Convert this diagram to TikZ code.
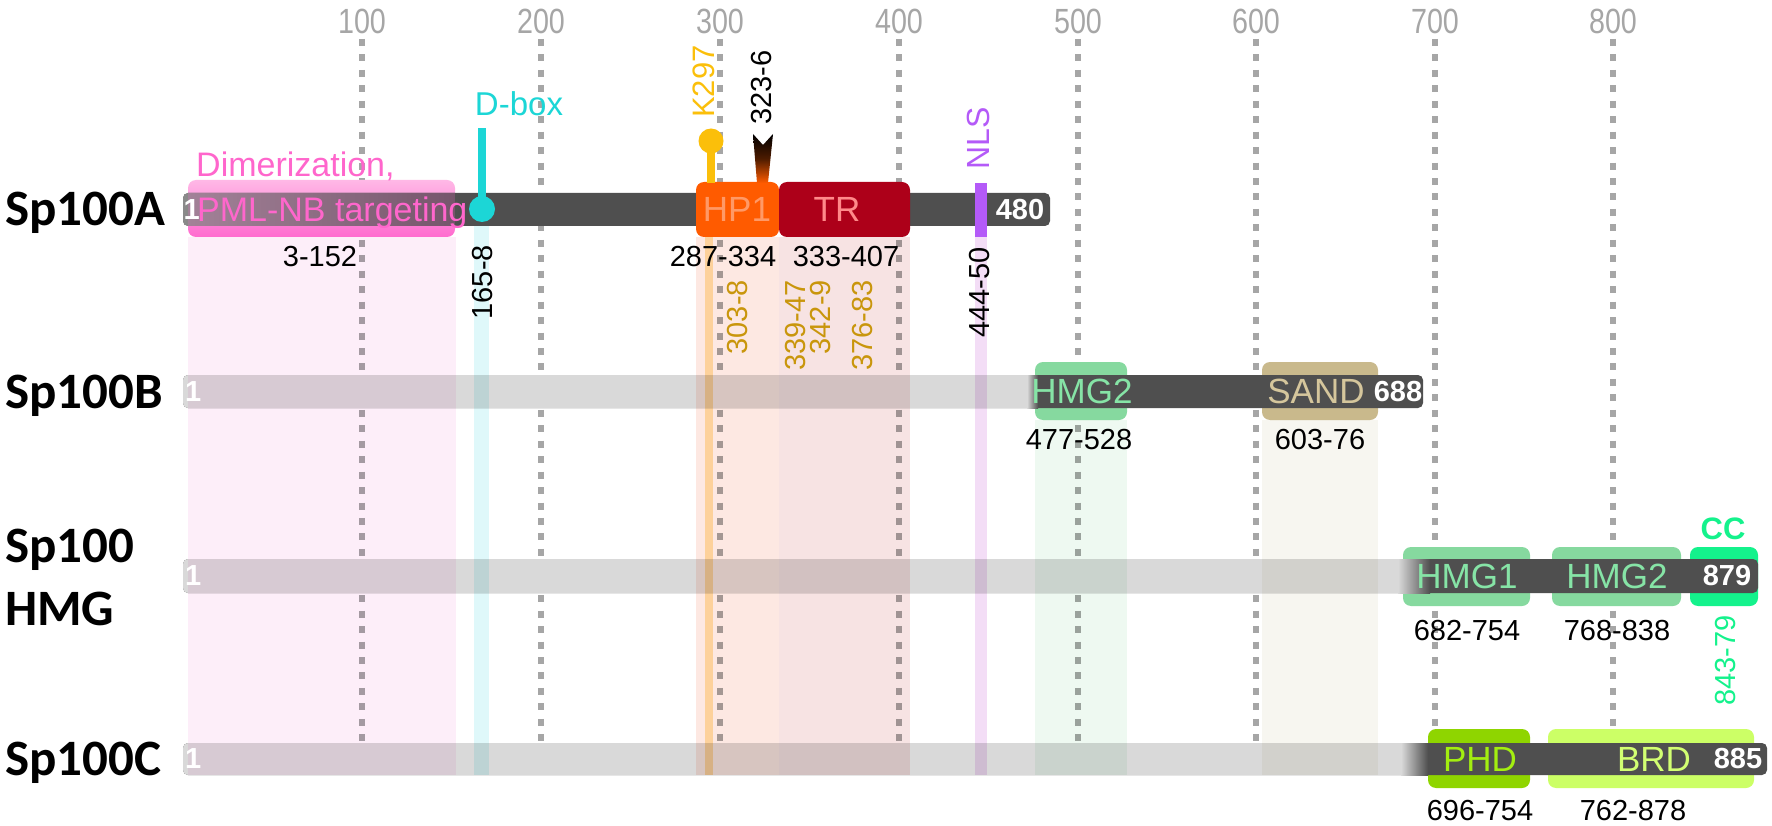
\documentclass[tikz,border=0pt]{standalone}
\usepackage{fontspec}
\setmainfont{Liberation Sans}
\newfontfamily\rowfont{Carlito}
\newfontfamily\tickfont[FakeStretch=0.82]{Liberation Sans}
\definecolor{tickgray}{HTML}{A6A6A6}
\definecolor{bardark}{HTML}{4F4F4F}
\definecolor{barlight}{HTML}{D9D9D9}
\definecolor{barmid}{HTML}{8A8A8A}
\definecolor{pinktop}{HTML}{FFB8E6}
\definecolor{pinkbot}{HTML}{FF6BCF}
\definecolor{pinktext}{HTML}{FF66CC}
\definecolor{cyanc}{HTML}{1CD6D6}
\definecolor{hpone}{HTML}{FF5B00}
\definecolor{hponetext}{HTML}{FF9966}
\definecolor{trc}{HTML}{AD0019}
\definecolor{trtext}{HTML}{FF8A8A}
\definecolor{kc}{HTML}{FBBF0A}
\definecolor{gold}{HTML}{C9960C}
\definecolor{nlsc}{HTML}{B45AF8}
\definecolor{hmgc}{HTML}{86D99F}
\definecolor{hmgtext}{HTML}{86E4A6}
\definecolor{sandc}{HTML}{C9B98C}
\definecolor{sandtext}{HTML}{D5C69C}
\definecolor{ccc}{HTML}{14F28C}
\definecolor{phdc}{HTML}{8FD500}
\definecolor{phdtext}{HTML}{A3EE10}
\definecolor{brdc}{HTML}{CCFF66}
\definecolor{brdtext}{HTML}{D2FF72}
\definecolor{bpink}{HTML}{FDEEF9}
\definecolor{bcyan}{HTML}{DFF8FA}
\definecolor{bpeach}{HTML}{FDE8E2}
\definecolor{byellow}{HTML}{FFE6B0}
\definecolor{btr}{HTML}{F7E3E3}
\definecolor{bnls}{HTML}{F3DDF6}
\definecolor{bhmg}{HTML}{EEF9F1}
\definecolor{bsand}{HTML}{F7F6F0}
\begin{document}
\begin{tikzpicture}[x=1pt,y=-1pt,
  numlbl/.style={font=\fontsize{29}{34}\selectfont, inner sep=0pt},
  domlbl/.style={font=\fontsize{35}{40}\selectfont, inner sep=0pt},
  endlbl/.style={font=\bfseries\fontsize{29}{34}\selectfont, text=white, inner sep=0pt},
  rowlbl/.style={font=\rowfont\bfseries\fontsize{51}{60}\selectfont, anchor=base west, inner sep=0pt},
  ticklbl/.style={font=\tickfont\fontsize{35}{40}\selectfont, text=tickgray, anchor=base, inner sep=0pt},
  dotline/.style={draw=tickgray, line width=6.5pt, dash pattern=on 7pt off 8.45pt},
  dombox/.style={rounded corners=8pt},
  barshape/.style={rounded corners=5pt}]
\useasboundingbox (0,0) rectangle (1772,826);
\fill[white] (0,0) rectangle (1772,826);

% ticks and dotted guide lines
\foreach \v/\x in {100/362,200/541,300/720,400/899,500/1078,600/1256,700/1435,800/1613}{
  \node[ticklbl] (t\v) at (\x,34) {\v};
  \draw[dotline] (\x,39) -- (\x,745);
}

% ---- Sp100B
\fill[hmgc, dombox] (1035,362) rectangle (1127,420);
\fill[sandc, dombox] (1262,362) rectangle (1378,420);
\fill[bardark, barshape] (183,375) rectangle (1423,408);
\fill[barlight, barshape] (183,375) rectangle (1034,408);
\shade[left color=barlight, right color=bardark] (1027,375) rectangle (1038,408);

% ---- Sp100 HMG
\fill[hmgc, dombox] (1403,547) rectangle (1530,606);
\fill[hmgc, dombox] (1552,547) rectangle (1681,606);
\fill[ccc, dombox] (1690,547) rectangle (1758,606);
\fill[bardark, barshape] (183,559) rectangle (1758,593);
\fill[barlight, barshape] (183,559) rectangle (1404,593);
\shade[left color=barlight, right color=bardark] (1398,559) rectangle (1430,593);

% ---- Sp100C
\fill[phdc, dombox] (1428,729) rectangle (1530,788);
\fill[brdc, dombox] (1548,729) rectangle (1754,788);
\fill[bardark, barshape] (183,743) rectangle (1767,775);
\fill[barlight, barshape] (183,743) rectangle (1406,775);
\shade[left color=barlight, right color=bardark] (1401,743) rectangle (1428,775);

% ---- Sp100A
\shade[top color=pinktop, bottom color=pinkbot, dombox] (188,180) rectangle (455,237);
\fill[bardark, barshape] (183,193) rectangle (1050,226);
\shade[left color=barmid, right color=bardark, barshape] (183,193) rectangle (460,226);
\fill[pinkbot, opacity=0.22] (188,193) rectangle (455,226);
\fill[hpone, dombox] (696,182) rectangle (779,237);
\fill[trc, dombox] (779,182) rectangle (910,237);
\fill[nlsc] (975,183) rectangle (987,237);
% K297 lollipop
\fill[kc] (707,141) rectangle (715,183);
\fill[kc] (711,141) circle (12.5);
% 323-6 flame
\shade[top color=black, bottom color=hpone, middle color=black!70!hpone]
  (753,134) -- (763,145) -- (773,134) -- (768,183) -- (757,183) -- cycle;
% D-box lollipop
\fill[cyanc] (478,128) rectangle (486,209);
\fill[cyanc] (482,209) circle (13);

% ---- translucent bands
\begin{scope}[blend mode=multiply]
\fill[bpink] (188,237) rectangle (456,775);
\fill[bcyan] (474,226) rectangle (489,775);
\fill[bpeach] (696,237) rectangle (779,775);
\fill[byellow] (705,237) rectangle (713,775);
\fill[btr] (779,237) rectangle (910,775);
\fill[bnls] (975,237) rectangle (987,775);
\fill[bhmg] (1035,420) rectangle (1127,775);
\fill[bsand] (1262,420) rectangle (1378,775);
\end{scope}

% ---- row labels
\node[rowlbl] (rA) at (5,226) {Sp100A};
\node[rowlbl] (rB) at (5,408) {Sp100B};
\node[rowlbl] (rH1) at (5,562) {Sp100};
\node[rowlbl] (rH2) at (5,625) {HMG};
\node[rowlbl] (rC) at (5,775) {Sp100C};

% ---- start / end numbers
\node[endlbl, anchor=west] (sA) at (183.5,209.5) {1};
\node[endlbl, anchor=west] (sB) at (185,391.5) {1};
\node[endlbl, anchor=west] (sH) at (185,576) {1};
\node[endlbl, anchor=west] (sC) at (185,759) {1};
\node[endlbl] (eA) at (1020,209.5) {480};
\node[endlbl] (eB) at (1398,391.5) {688};
\node[endlbl] (eH) at (1727,576) {879};
\node[endlbl] (eC) at (1738,759) {885};

% ---- Sp100A labels
\node[font=\fontsize{34}{40}\selectfont, text=pinktext, anchor=base west, inner sep=0pt] (dim1) at (196,177) {Dimerization,};
\node[font=\fontsize{34}{40}\selectfont, text=pinktext, anchor=base west, inner sep=0pt] (dim2) at (197,221.5) {PML-NB targeting};
\node[font=\fontsize{33}{40}\selectfont, text=cyanc, anchor=base, inner sep=0pt] (dbox) at (519,116) {D-box};
\node[domlbl, text=hponetext] (hp1) at (737,209.5) {HP1};
\node[domlbl, text=trtext] (tr) at (837,209.5) {TR};
\node[font=\fontsize{31}{36}\selectfont, text=kc, rotate=90, anchor=west, inner sep=0pt] (k297) at (704,118) {K297};
\node[numlbl, rotate=90, anchor=west] (m3236) at (762,125) {323-6};
\node[font=\fontsize{32}{36}\selectfont, text=nlsc, rotate=90, anchor=west, inner sep=0pt] (nls) at (978,170) {NLS};
\node[numlbl] (n3152) at (320,256.5) {3-152};
\node[numlbl] (n287) at (723,256.5) {287-334};
\node[numlbl] (n333) at (846,256.5) {333-407};
\node[numlbl, rotate=90, anchor=east] (n165) at (483,245) {165-8};
\node[numlbl, rotate=90, anchor=east] (n444) at (980,247) {444-50};
\node[numlbl, text=gold, rotate=90, anchor=east] (n303) at (738,280) {303-8};
\node[numlbl, text=gold, rotate=90, anchor=east] (n339) at (796,280) {339-47};
\node[numlbl, text=gold, rotate=90, anchor=east] (n342) at (821,280) {342-9};
\node[numlbl, text=gold, rotate=90, anchor=east] (n376) at (863,280) {376-83};

% ---- Sp100B labels
\node[domlbl, text=hmgtext] (hmgB) at (1082,391.5) {HMG2};
\node[domlbl, text=sandtext] (sand) at (1316,391.5) {SAND};
\node[numlbl] (n477) at (1079,440) {477-528};
\node[numlbl] (n603) at (1320,440) {603-76};

% ---- Sp100 HMG labels
\node[domlbl, text=hmgtext] (hmg1) at (1467,576) {HMG1};
\node[domlbl, text=hmgtext] (hmg2) at (1617,576) {HMG2};
\node[font=\bfseries\fontsize{31}{36}\selectfont, text=ccc, inner sep=0pt] (cc) at (1723,529) {CC};
\node[numlbl] (n682) at (1467,631) {682-754};
\node[numlbl] (n768) at (1617,631) {768-838};
\node[numlbl, text=ccc, rotate=90, anchor=east] (n843) at (1725,615) {843-79};

% ---- Sp100C labels
\node[domlbl, text=phdtext] (phd) at (1480,759) {PHD};
\node[domlbl, text=brdtext] (brd) at (1654,759) {BRD};
\node[numlbl] (n696) at (1480,811) {696-754};
\node[numlbl] (n762) at (1633,811) {762-878};
\end{tikzpicture}
\end{document}
